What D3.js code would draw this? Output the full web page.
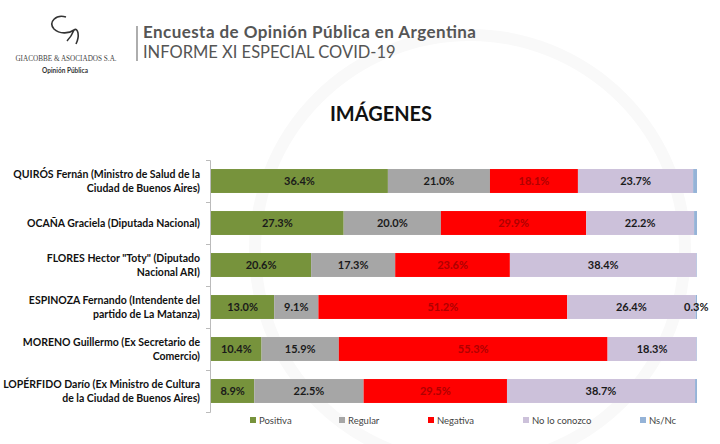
<!DOCTYPE html>
<html><head><meta charset="utf-8">
<script src="https://cdn.jsdelivr.net/npm/d3@7"></script>
<style>
html,body{margin:0;padding:0;background:#fff;}
svg{display:block;font-family:Lato,"Open Sans",sans-serif;}
</style></head>
<body>
<svg id="c" width="720" height="444"></svg>
<script>
const categories = [
  ["QUIRÓS Fernán (Ministro de Salud de la", "Ciudad de Buenos Aires)"],
  ["OCAÑA Graciela (Diputada Nacional)"],
  ["FLORES Hector \"Toty\" (Diputado", "Nacional ARI)"],
  ["ESPINOZA Fernando (Intendente del", "partido de La Matanza)"],
  ["MORENO Guillermo (Ex Secretario de", "Comercio)"],
  ["LOPÉRFIDO Darío (Ex Ministro de Cultura", "de la Ciudad de Buenos Aires)"]
];
const seriesNames = ["Positiva", "Regular", "Negativa", "No lo conozco", "Ns/Nc"];
const positiva = [36.4, 27.3, 20.6, 13.0, 10.4, 8.9];
const regular = [21.0, 20.0, 17.3, 9.1, 15.9, 22.5];
const negativa = [18.1, 29.9, 23.6, 51.2, 55.3, 29.5];
const noLoConozco = [23.7, 22.2, 38.4, 26.4, 18.3, 38.7];
const nsnc = [0.8, 0.6, 0.1, 0.3, 0.1, 0.4];
const nsncLabelShown = [false, false, false, true, false, false];
const colors = ["#77933C", "#A6A6A6", "#FF0000", "#CCC1DA", "#95B3D7"];
const labelColors = ["#1a1a1a", "#1a1a1a", "#B00000", "#1a1a1a", "#1a1a1a"];

const series = [positiva, regular, negativa, noLoConozco, nsnc];
const svg = d3.select("#c");

// faint watermark
svg.append("circle").attr("cx", 470).attr("cy", 250).attr("r", 215)
  .attr("fill", "none").attr("stroke", "#f9f9f9").attr("stroke-width", 12);

// header
const logo = svg.append("g");
logo.append("path")
  .attr("d", "M66,17 C56,14 48,22 54,29 C60,35 70,33 74,30 C78,27 80,36 76,44 M74,30 C72,35 70,38 67,41")
  .attr("fill", "none").attr("stroke", "#333").attr("stroke-width", 1.6);
logo.append("text").attr("x", 66).attr("y", 61).attr("text-anchor", "middle")
  .attr("font-family", "Liberation Serif, serif").attr("font-size", 7.2).attr("fill", "#444")
  .text("GIACOBBE & ASOCIADOS S.A.");
logo.append("text").attr("x", 65).attr("y", 73).attr("text-anchor", "middle")
  .attr("font-size", 6.5).attr("font-weight", "bold").attr("fill", "#333")
  .text("Opinión Pública");
svg.append("line").attr("x1", 137).attr("x2", 137).attr("y1", 26).attr("y2", 61)
  .attr("stroke", "#777").attr("stroke-width", 1.2);
svg.append("text").attr("x", 143).attr("y", 38).attr("font-size", 17).attr("font-weight", "bold")
  .attr("fill", "#555").attr("textLength", 333).attr("lengthAdjust", "spacing")
  .text("Encuesta de Opinión Pública en Argentina");
svg.append("text").attr("x", 143).attr("y", 58).attr("font-size", 16.5)
  .attr("fill", "#555").text("INFORME XI ESPECIAL COVID-19");

svg.append("text").attr("x", 381).attr("y", 121).attr("text-anchor", "middle")
  .attr("font-size", 20).attr("font-weight", "bold").attr("fill", "#111").text("IMÁGENES");

// scales
const x = d3.scaleLinear().domain([0, 100]).range([211, 697]);
const y = d3.scaleBand().domain(d3.range(categories.length)).range([160, 412]).paddingInner(0.43).paddingOuter(0.215);

const axis = svg.append("g").attr("transform", "translate(210,0)")
  .call(d3.axisLeft(d3.scaleLinear().domain([0, categories.length]).range([160, 412]))
    .ticks(categories.length).tickSize(4).tickFormat(""));
axis.selectAll("path,line").attr("stroke", "#bbb");

categories.forEach((lines, i) => {
  let acc = 0;
  series.forEach((s, k) => {
    const v = s[i];
    const x0 = x(acc), x1 = x(acc + v);
    svg.append("rect").attr("x", x0).attr("y", y(i)).attr("width", x1 - x0).attr("height", y.bandwidth())
      .attr("fill", colors[k]);
    const show = k < 4 || nsncLabelShown[i];
    if (show) {
      svg.append("text").attr("x", (x0 + x1) / 2).attr("y", y(i) + y.bandwidth() / 2 + 4)
        .attr("text-anchor", "middle").attr("font-size", 11).attr("font-weight", "bold")
        .attr("fill", labelColors[k]).text(v.toFixed(1) + "%");
    }
    acc += v;
  });
  const cy = y(i) + y.bandwidth() / 2;
  const t = svg.append("text").attr("text-anchor", "end").attr("font-size", 10.5)
    .attr("font-weight", "bold").attr("fill", "#111");
  const n = lines.length;
  lines.forEach((ln, j) => {
    t.append("tspan").attr("x", 200).attr("y", cy + 4 + (j - (n - 1) / 2) * 14).text(ln);
  });
});

// legend
const legX = [250, 339, 428, 523, 640];
seriesNames.forEach((name, k) => {
  svg.append("rect").attr("x", legX[k]).attr("y", 417).attr("width", 6).attr("height", 6).attr("fill", colors[k]);
  svg.append("text").attr("x", legX[k] + 9).attr("y", 423.5).attr("font-size", 9.5).attr("fill", "#444").text(name);
});
</script>
</body></html>
